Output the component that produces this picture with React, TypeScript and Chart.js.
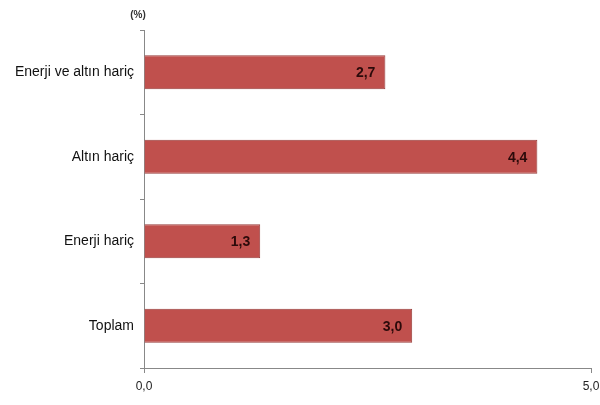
import React, { useEffect, useRef } from "react";
import { Chart, registerables } from "chart.js";

Chart.register(...registerables);

const categories = ["Enerji ve altın hariç", "Altın hariç", "Enerji hariç", "Toplam"];
const values = [2.7, 4.4, 1.3, 3.0];
const xTickLabels: Record<number, string> = { 0: "0,0", 5: "5,0" };
const unitLabel = "(%)";

const fmt = (v: number) => v.toFixed(1).replace(".", ",");

const valueLabelPlugin = {
  id: "valueLabels",
  afterDatasetsDraw(chart: any) {
    const ctx = chart.ctx;
    const meta = chart.getDatasetMeta(0);
    ctx.save();
    ctx.font = "bold 14px 'Liberation Sans', Arial, sans-serif";
    ctx.fillStyle = "#2b0a0a";
    ctx.textAlign = "right";
    ctx.textBaseline = "middle";
    meta.data.forEach((bar: any, i: number) => {
      ctx.fillText(fmt(values[i]), bar.x - 10, bar.y + 1);
    });
    ctx.font = "bold 10px 'Liberation Sans', Arial, sans-serif";
    ctx.fillStyle = "#333";
    ctx.textAlign = "center";
    ctx.fillText(unitLabel, chart.chartArea.left - 6, 15);
    ctx.restore();
  },
};

export default function App() {
  const ref = useRef<HTMLCanvasElement>(null);
  useEffect(() => {
    if (!ref.current) return;
    const chart = new Chart(ref.current, {
      type: "bar",
      data: {
        labels: categories,
        datasets: [
          {
            data: values,
            backgroundColor: "#c0504d",
            borderColor: "#973c3a",
            borderWidth: 1,
            borderSkipped: "left",
            barPercentage: 0.4,
            categoryPercentage: 1,
          },
        ],
      },
      options: {
        indexAxis: "y",
        animation: false,
        responsive: false,
        maintainAspectRatio: false,
        layout: { padding: { top: 30, right: 0, left: 0, bottom: 0 } },
        plugins: { legend: { display: false }, tooltip: { enabled: false } },
        scales: {
          x: {
            min: 0,
            max: 5,
            afterFit: (s: any) => {
              s.height = 37;
              s.paddingRight = 9;
            },
            ticks: {
              stepSize: 5,
              color: "#222",
              font: { family: "'Liberation Sans', Arial, sans-serif", size: 12 },
              callback: (v: any) => xTickLabels[v as number] ?? "",
              padding: 6,
            },
            grid: {
              drawOnChartArea: false,
              color: "#888",
              tickLength: 5,
            },
            border: { color: "#888", width: 1 },
          },
          y: {
            ticks: {
              color: "#111",
              font: { family: "'Liberation Sans', Arial, sans-serif", size: 14 },
              padding: 6,
            },
            grid: {
              offset: true,
              drawOnChartArea: false,
              color: "#888",
              tickLength: 4,
            },
            border: { color: "#888", width: 1 },
            afterFit: (s: any) => {
              s.width = 144;
            },
          },
        },
      },
      plugins: [valueLabelPlugin],
    });
    return () => chart.destroy();
  }, []);
  return (
    <div style={{ position: "fixed", left: 0, top: 0, width: 600, height: 405, background: "#fff" }}>
      <canvas ref={ref} width={600} height={405} />
    </div>
  );
}
